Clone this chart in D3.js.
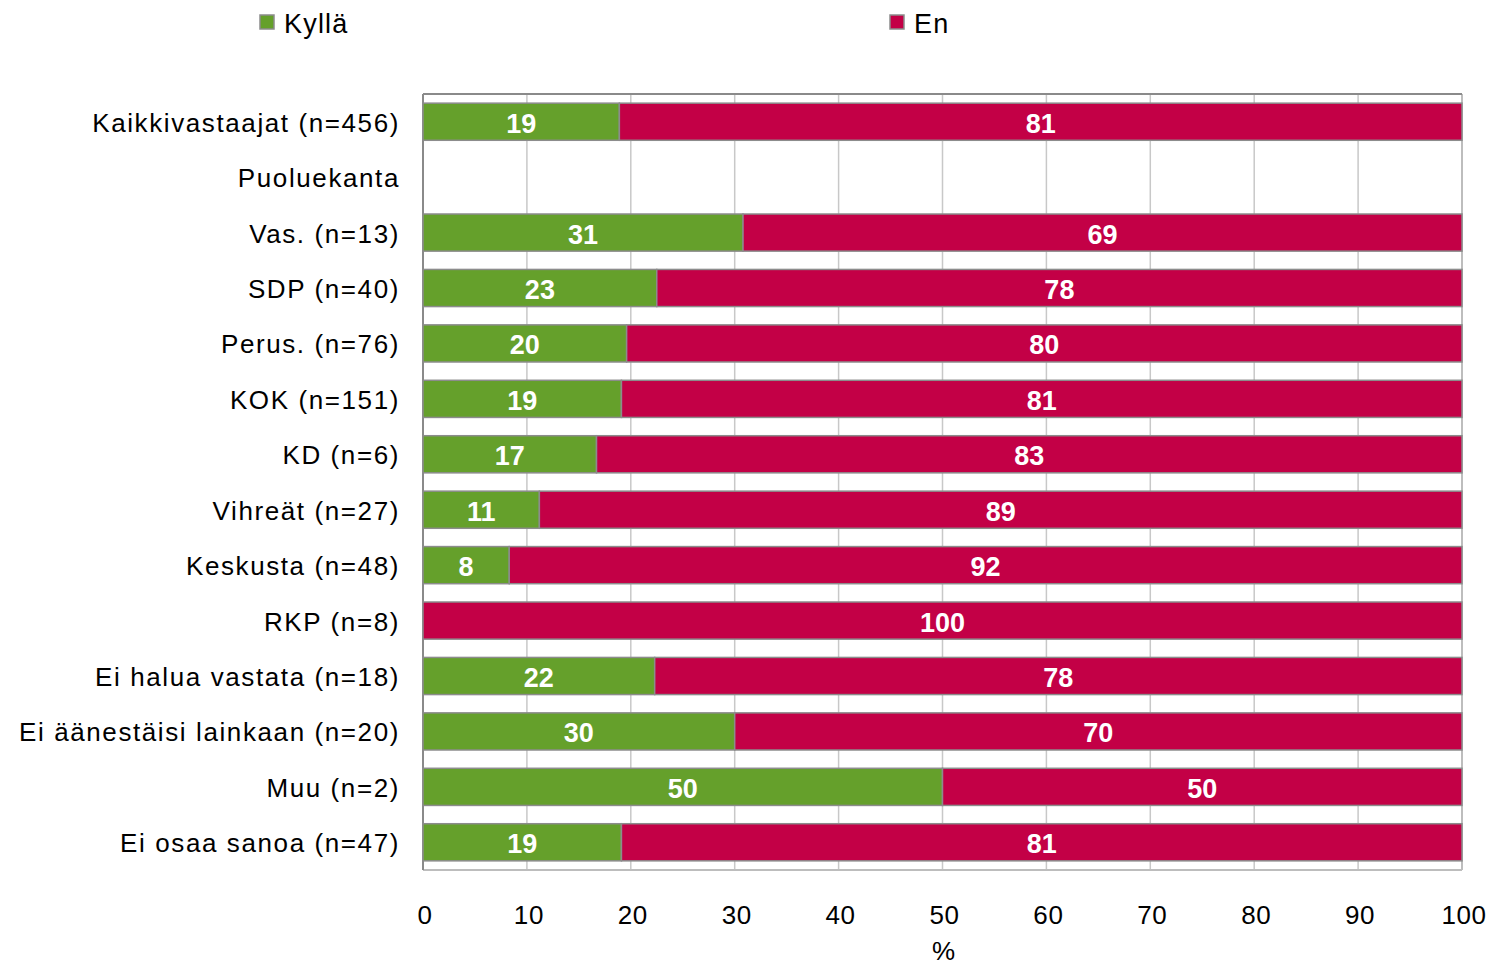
<!DOCTYPE html>
<html>
<head>
<meta charset="utf-8">
<script src="https://cdn.jsdelivr.net/npm/d3@7"></script>
<style>
  body { margin: 0; background: #fff; }
  text { font-family: "Liberation Sans", Arial, sans-serif; }
</style>
</head>
<body>
<div id="plot"></div>
<script>
// data
var categories = ["Kaikkivastaajat (n=456)", "Puoluekanta", "Vas. (n=13)", "SDP (n=40)",
  "Perus. (n=76)", "KOK (n=151)", "KD (n=6)", "Vihreät (n=27)", "Keskusta (n=48)",
  "RKP (n=8)", "Ei halua vastata (n=18)", "Ei äänestäisi lainkaan (n=20)", "Muu (n=2)",
  "Ei osaa sanoa (n=47)"];
var kylla = [18.9, null, 30.8, 22.5, 19.6, 19.1, 16.7, 11.2, 8.3, 0, 22.3, 30, 50, 19.1];
var en    = [81.1, null, 69.2, 77.5, 80.4, 80.9, 83.3, 88.8, 91.7, 100, 77.7, 70, 50, 80.9];
var seriesNames = ["Kyllä", "En"];
var colors = ["#65a02b", "#c30046"];
var xTicks = [0, 10, 20, 30, 40, 50, 60, 70, 80, 90, 100];

var margin = {top: 94, right: 33, bottom: 95, left: 423},
    width = 1495 - margin.left - margin.right,
    height = 965 - margin.top - margin.bottom;

var svg = d3.select("#plot")
  .append("svg")
    .attr("width", 1495)
    .attr("height", 965)
  .append("g")
    .attr("transform", "translate(" + margin.left + "," + margin.top + ")");

var x = d3.scaleLinear().domain([0, 100]).range([0, width]);
var y = d3.scaleBand().domain(categories).range([0, height]).paddingInner(0.33).paddingOuter(0.165);

// grid
svg.append("g").selectAll("line")
  .data(xTicks)
  .enter().append("line")
    .attr("x1", function(d) { return x(d); })
    .attr("x2", function(d) { return x(d); })
    .attr("y1", 0).attr("y2", height)
    .style("stroke", "#c8c8c8").style("stroke-width", 1.5);

// frame
svg.append("line").attr("x1", 0).attr("x2", width).attr("y1", height).attr("y2", height)
  .style("stroke", "#bdbdbd").style("stroke-width", 2);
svg.append("line").attr("x1", width).attr("x2", width).attr("y1", 0).attr("y2", height)
  .style("stroke", "#bdbdbd").style("stroke-width", 2);
svg.append("line").attr("x1", 0).attr("x2", width).attr("y1", 0).attr("y2", 0)
  .style("stroke", "#8a8a8a").style("stroke-width", 2);
svg.append("line").attr("x1", 0).attr("x2", 0).attr("y1", 0).attr("y2", height)
  .style("stroke", "#8a8a8a").style("stroke-width", 2);

// stacked rows
var rows = categories.map(function(c, i) {
  return {cat: c, vals: [kylla[i], en[i]]};
}).filter(function(r) { return r.vals[0] !== null; });

var segs = [];
rows.forEach(function(r) {
  var start = 0;
  r.vals.forEach(function(v, k) {
    if (v > 0) segs.push({cat: r.cat, x0: start, x1: start + v, k: k, v: v});
    start += v;
  });
});

svg.append("g").selectAll("rect")
  .data(segs)
  .enter().append("rect")
    .attr("x", function(d) { return x(d.x0); })
    .attr("width", function(d) { return x(d.x1) - x(d.x0); })
    .attr("y", function(d) { return y(d.cat); })
    .attr("height", y.bandwidth())
    .style("fill", function(d) { return colors[d.k]; })
    .style("stroke", "#8c8c8c")
    .style("stroke-width", 1.5);

svg.append("g").selectAll("text")
  .data(segs)
  .enter().append("text")
    .attr("x", function(d) { return x((d.x0 + d.x1) / 2); })
    .attr("y", function(d) { return y(d.cat) + y.bandwidth() / 2 + 2; })
    .attr("text-anchor", "middle")
    .attr("dominant-baseline", "central")
    .attr("fill", "#fff")
    .style("font-weight", "bold")
    .style("font-size", "27px")
    .text(function(d) { return Math.round(d.v); });

// category labels
svg.append("g").selectAll("text")
  .data(categories)
  .enter().append("text")
    .attr("x", -23)
    .attr("y", function(d) { return y(d) + y.bandwidth() / 2 + 1; })
    .attr("text-anchor", "end")
    .attr("dominant-baseline", "central")
    .style("font-size", "26px")
    .style("letter-spacing", "1.6px")
    .attr("fill", "#000")
    .text(function(d) { return d; });

// x tick labels
svg.append("g").selectAll("text")
  .data(xTicks)
  .enter().append("text")
    .attr("x", function(d) { return x(d) + 2; })
    .attr("y", height + 45)
    .attr("text-anchor", "middle")
    .attr("dominant-baseline", "central")
    .style("font-size", "26px")
    .style("letter-spacing", "0.6px")
    .text(function(d) { return d; });

svg.append("text")
  .attr("x", width / 2 + 1)
  .attr("y", height + 81)
  .attr("text-anchor", "middle")
  .attr("dominant-baseline", "central")
  .style("font-size", "26px")
  .text("%");

// legend
var legendX = [260, 890];
var legend = d3.select("svg").append("g");
seriesNames.forEach(function(n, i) {
  legend.append("rect")
    .attr("x", legendX[i]).attr("y", 15)
    .attr("width", 14).attr("height", 14)
    .style("fill", colors[i])
    .style("stroke", "#8c8c8c").style("stroke-width", 1.5);
  legend.append("text")
    .attr("x", legendX[i] + 24).attr("y", 24)
    .attr("dominant-baseline", "central")
    .style("font-size", "27px")
    .style("letter-spacing", "1.2px")
    .text(n);
});
</script>
</body>
</html>
